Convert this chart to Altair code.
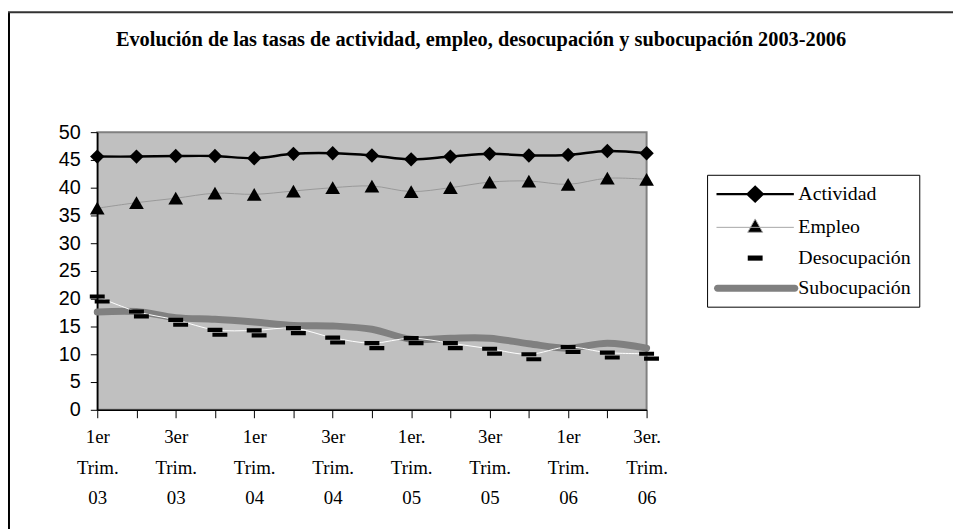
import altair as alt
import pandas as pd

# ---- data ----
etiquetas = ["1er|Trim.|03", "3er|Trim.|03", "1er|Trim.|04", "3er|Trim.|04",
             "1er.|Trim.|05", "3er|Trim.|05", "1er|Trim.|06", "3er.|Trim.|06"]
series = ["Actividad", "Empleo", "Desocupación", "Subocupación"]
actividad = [45.6, 45.6, 45.7, 45.7, 45.3, 46.1, 46.2, 45.8, 45.1, 45.6, 46.1, 45.8, 45.9, 46.6, 46.2]
empleo = [36.3, 37.3, 38.1, 39.0, 38.8, 39.4, 40.0, 40.3, 39.3, 40.0, 41.0, 41.2, 40.6, 41.7, 41.5]
desocupacion = [20.4, 17.7, 16.2, 14.4, 14.3, 14.7, 13.0, 12.0, 12.9, 12.0, 11.0, 10.0, 11.3, 10.3, 10.1]
subocupacion = [17.6, 17.7, 16.6, 16.3, 15.8, 15.2, 15.1, 14.5, 12.7, 12.9, 12.9, 11.9, 11.1, 12.0, 11.1]
titulo = "Evolución de las tasas de actividad, empleo, desocupación y subocupación 2003-2006"

rows = []
for nombre, vals in zip(series, [actividad, empleo, desocupacion, subocupacion]):
    for i, v in enumerate(vals):
        rows.append({"idx": i, "serie": nombre, "valor": v})
df = pd.DataFrame(rows)

labels_js = "[" + ",".join("'" + s + "'" for s in etiquetas) + "]"
label_expr = f"datum.value % 2 == 0 ? split({labels_js}[datum.value / 2], '|') : ''"

x = alt.X("idx:Q", scale=alt.Scale(domain=[0, 14], nice=False, zero=False),
          axis=alt.Axis(values=list(range(15)), labelExpr=label_expr, title=None, grid=False,
                        tickSize=8, labelPadding=10, labelFont="Liberation Serif", labelFontSize=19,
                        labelLineHeight=31, labelOverlap=False, labelFlush=False,
                        domainColor="black", tickColor="black", labelColor="black", domainWidth=1.5))
y = alt.Y("valor:Q", scale=alt.Scale(domain=[0, 50], nice=False),
          axis=alt.Axis(values=list(range(0, 51, 5)), title=None, grid=False, tickSize=7,
                        labelPadding=10, labelFont="Liberation Sans", labelFontSize=20,
                        domainColor="black", tickColor="black", labelColor="black", domainWidth=1.5))

base = alt.Chart(df).encode(x=x, y=y)

def sel(n):
    return alt.datum.serie == n

sub_line = base.transform_filter(sel("Subocupación")).mark_line(
    color="#808080", strokeWidth=7, interpolate="catmull-rom", strokeCap="round")
emp_line = base.transform_filter(sel("Empleo")).mark_line(
    color="#999999", strokeWidth=1, interpolate="catmull-rom")
act_line = base.transform_filter(sel("Actividad")).mark_line(
    color="black", strokeWidth=2.5, interpolate="catmull-rom")
des_line = base.transform_filter(sel("Desocupación")).mark_line(
    color="white", strokeWidth=1, interpolate="catmull-rom")

act_pts = base.transform_filter(sel("Actividad")).mark_point(
    shape="diamond", filled=True, size=210, color="black", opacity=1)
emp_pts = base.transform_filter(sel("Empleo")).mark_point(
    shape="triangle-up", filled=True, size=220, color="black", opacity=1)
dash2 = "M-0.47,-0.13L0.47,-0.13L0.47,0.13L-0.47,0.13ZM-0.16,0.18L0.78,0.18L0.78,0.44L-0.16,0.44Z"
des_pts = base.transform_filter(sel("Desocupación")).mark_point(
    shape=dash2, filled=True, size=1024, color="black", opacity=1, strokeWidth=0)

# legend-only layer (no marks drawn, legend built from the scales)
# symbol unit = sqrt(400)/2 = 10 px; line spans x = -1..6.8 (78 px)
leg_shapes = [
    "M-1,0L6.8,0M2.15,0L2.9,-0.72L3.65,0L2.9,0.72Z",
    "M-1,0L6.8,0M2.9,-0.85L3.65,0.5L2.15,0.5Z",
    "M2.15,-0.26L3.65,-0.26L3.65,0.26L2.15,0.26Z",
    "M-0.9,-0.35L6.9,-0.35A0.35,0.35 0 0 1 6.9,0.35L-0.9,0.35A0.35,0.35 0 0 1 -0.9,-0.35Z",
]
leg = alt.Legend(title=None, orient="none", legendX=615, legendY=43, strokeColor="black",
                 fillColor="white", padding=8, symbolSize=400, labelFont="Liberation Serif",
                 labelFontSize=20, labelColor="black", labelOffset=61, rowPadding=10.5,
                 symbolOpacity=1, labelBaseline="middle")
legend_layer = base.transform_filter("false").mark_point(filled=True, opacity=1).encode(
    shape=alt.Shape("serie:N", scale=alt.Scale(domain=series, range=leg_shapes), legend=leg),
    fill=alt.Fill("serie:N", scale=alt.Scale(domain=series, range=["black", "black", "black", "#808080"]), legend=leg),
    stroke=alt.Stroke("serie:N", scale=alt.Scale(domain=series, range=["black", "#a6a6a6", "black", "#808080"]), legend=leg),
    strokeWidth=alt.StrokeWidth("serie:N", scale=alt.Scale(type="ordinal", domain=series, range=[2.5, 1, 0, 0]), legend=leg),
)

frame = alt.Chart(alt.Data(values=[{"k": 1}]))
frame_left = frame.mark_rule(color="black", strokeWidth=2).encode(
    x=alt.value(-89), y=alt.value(-121), y2=alt.value(420))
frame_top = frame.mark_rule(color="#333333", strokeWidth=2).encode(
    x=alt.value(-90), x2=alt.value(900), y=alt.value(-121))

chart = alt.layer(
    frame_left, frame_top, sub_line, emp_line, act_line, des_line,
    act_pts, emp_pts, des_pts, legend_layer
).properties(
    width=554, height=280, autosize="none", background="white",
    padding={"left": 90, "top": 123, "right": 309, "bottom": 118},
    title=alt.TitleParams(titulo, font="Liberation Serif", fontSize=20.5, fontWeight="bold",
                          anchor="middle", frame="group", dx=110, offset=-40, color="black"),
).configure_view(fill="#C0C0C0", stroke="#808080", strokeWidth=2)

chart.save("out.html", embed_options={"renderer": "svg", "actions": False})
